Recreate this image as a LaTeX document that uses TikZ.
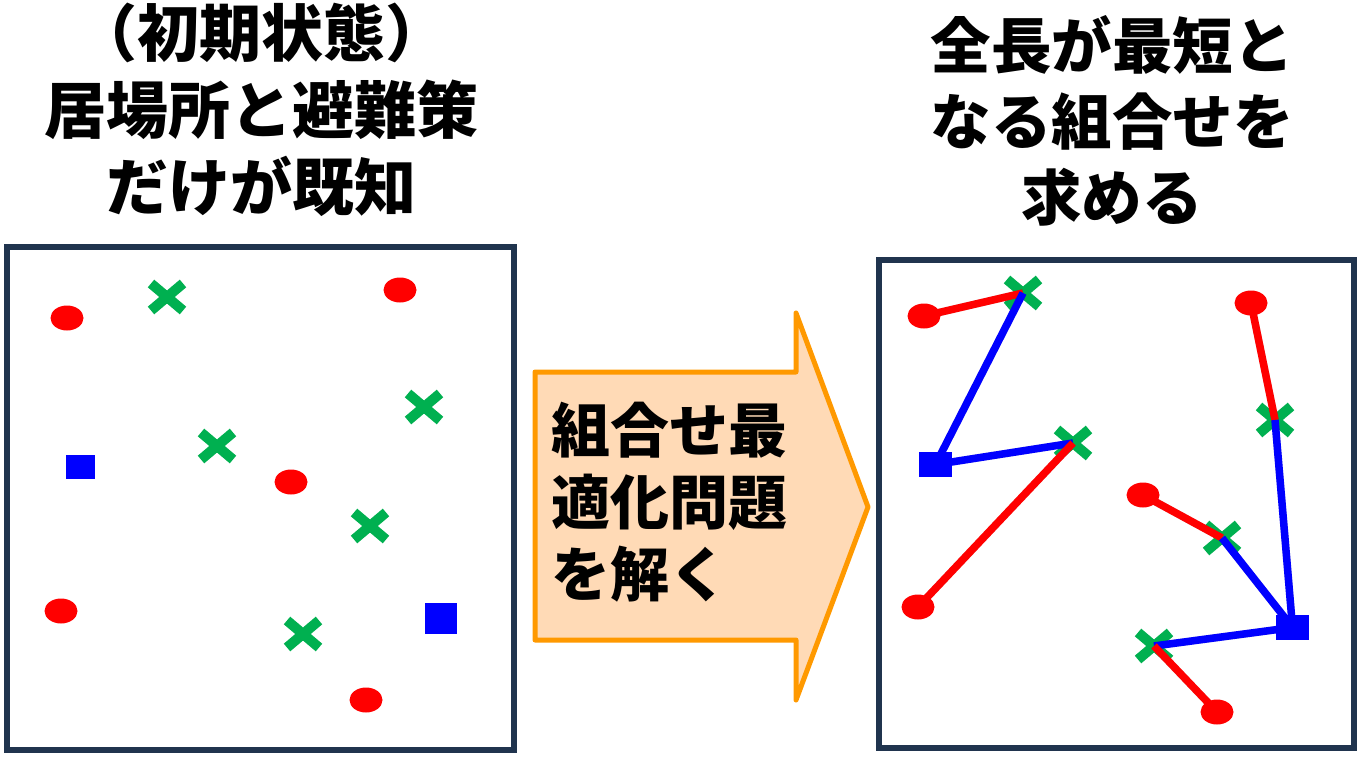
\documentclass[tikz,border=0pt]{standalone}
\usepackage{fontspec}
\newfontfamily\cjk{Noto Sans CJK JP}
\usetikzlibrary{shapes.geometric,shapes.misc}
\definecolor{boxc}{RGB}{32,52,78}
\definecolor{mred}{RGB}{255,0,0}
\definecolor{mblue}{RGB}{0,0,255}
\definecolor{mgreen}{RGB}{0,176,80}
\definecolor{arrowline}{RGB}{255,153,0}
\definecolor{arrowfill}{RGB}{255,218,182}
\tikzset{
  frame/.style={draw=boxc, line width=6pt},
  person/.style={ellipse, fill=mred, minimum width=33pt, minimum height=25pt, inner sep=0pt},
  shelter/.style={rectangle, fill=mblue, inner sep=0pt},
  plan/.style={cross out, draw=mgreen, line width=10pt, minimum width=22pt, minimum height=17pt, inner sep=0pt},
  redline/.style={draw=mred, line width=7.5pt},
  blueline/.style={draw=mblue, line width=7.5pt},
  shadowline/.style={draw=black, opacity=0.15, line width=7.5pt},
  titletext/.style={align=center, inner sep=0pt, font={\cjk\bfseries\fontsize{62pt}{77pt}\selectfont}},
  arrowtext/.style={align=left, inner sep=0pt, font={\cjk\bfseries\fontsize{59pt}{72pt}\selectfont}}
}
\begin{document}
\begin{tikzpicture}[x=1pt,y=-1pt]
\useasboundingbox (0,0) rectangle (1362,757);
\fill[white] (0,0) rectangle (1362,757);

% titles
\node[titletext] (tl) at (261,110) {（初期状態）\\居場所と避難策\\だけが既知};
\node[titletext, font={\cjk\bfseries\fontsize{60.5pt}{76pt}\selectfont}] (tr) at (1112,121) {全長が最短と\\なる組合せを\\求める};

% left box
\draw[frame] (7,247) rectangle (514,750);
\node[person] (l1) at (67,318) {};
\node[person] (l2) at (400,290) {};
\node[person] (l3) at (291,482) {};
\node[person] (l4) at (61,611) {};
\node[person] (l5) at (366,700) {};
\node[plan] (lx1) at (167,297) {};
\node[plan] (lx2) at (424,407) {};
\node[plan] (lx3) at (217,446) {};
\node[plan] (lx4) at (370,526) {};
\node[plan] (lx5) at (303,634) {};
\node[shelter, minimum width=29pt, minimum height=24pt] (ls1) at (80.5,467) {};
\node[shelter, minimum width=32pt, minimum height=31pt] (ls2) at (441,618.5) {};

% arrow
\draw[draw=arrowline, fill=arrowfill, line width=5pt, line join=round]
  (535,372) -- (796,372) -- (796,313) -- (868,507) -- (796,700) -- (796,640) -- (535,640) -- cycle;
\node[arrowtext, anchor=west] (at) at (551,502) {組合せ最\\適化問題\\を解く};

% right box
\draw[frame] (879,260) rectangle (1354,748);
\node[plan] (xA) at (1023,293) {};
\node[plan] (xB) at (1073,443) {};
\node[plan] (xC) at (1275,420) {};
\node[plan] (xD) at (1222,538) {};
\node[plan] (xE) at (1154,646) {};
\coordinate (eAc) at (924,316);
\coordinate (eBc) at (918,607);
\coordinate (eCc) at (1251,303);
\coordinate (eDc) at (1143,495);
\coordinate (eEc) at (1217,712);
\coordinate (sAc) at (935.5,464.5);
\coordinate (sBc) at (1292.5,627.5);

\begin{scope}[shift={(2,2.5)}]
\draw[shadowline] (eAc) -- (xA.center);
\draw[shadowline] (xA.center) -- (sAc) -- (xB.center);
\draw[shadowline] (xB.center) -- (eBc);
\draw[shadowline] (eCc) -- (xC.center);
\draw[shadowline] (xC.center) -- (sBc);
\draw[shadowline] (eDc) -- (xD.center);
\draw[shadowline] (xD.center) -- (sBc) -- (xE.center);
\draw[shadowline] (xE.center) -- (eEc);
\end{scope}

\draw[redline] (eAc) -- (xA.center);
\draw[blueline] (xA.center) -- (sAc);
\draw[blueline] (sAc) -- (xB.center);
\draw[redline] (xB.center) -- (eBc);
\draw[redline] (eCc) -- (xC.center);
\draw[blueline] (xC.center) -- (sBc);
\draw[redline] (eDc) -- (xD.center);
\draw[blueline] (xD.center) -- (sBc);
\draw[blueline] (sBc) -- (xE.center);
\draw[redline] (xE.center) -- (eEc);

\node[person] (eA) at (eAc) {};
\node[person] (eB) at (eBc) {};
\node[person] (eC) at (eCc) {};
\node[person] (eD) at (eDc) {};
\node[person] (eE) at (eEc) {};
\node[shelter, minimum width=33pt, minimum height=25pt] (sA) at (sAc) {};
\node[shelter, minimum width=33pt, minimum height=25pt] (sB) at (sBc) {};
\end{tikzpicture}
\end{document}
